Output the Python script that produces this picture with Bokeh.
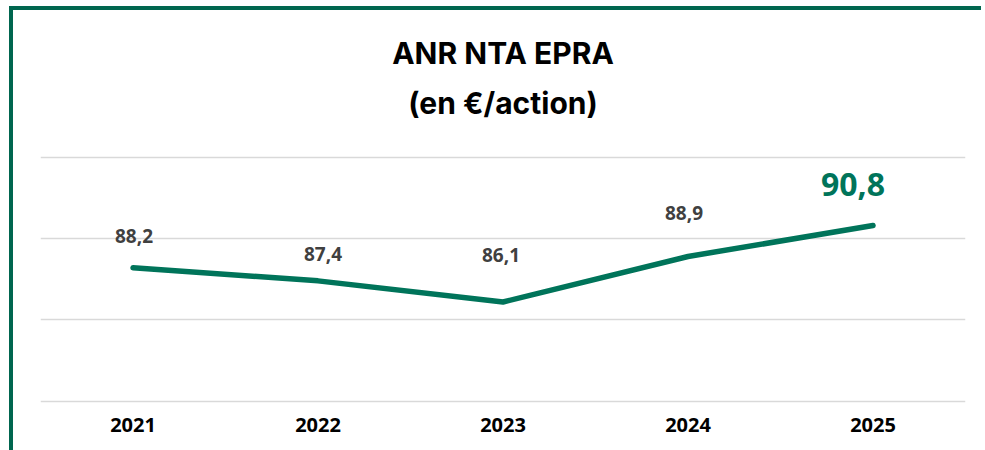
from bokeh.plotting import figure
from bokeh.models import ColumnDataSource, Range1d, FixedTicker, Label
from bokeh.core.properties import value
from bokeh.embed import file_html
from bokeh.resources import INLINE

years = ["2021", "2022", "2023", "2024", "2025"]
anr_values = [88.2, 87.4, 86.1, 88.9, 90.8]
value_labels = ["88,2", "87,4", "86,1", "88,9", "90,8"]
grid_ticks = [80, 85, 90, 95]
title_line1 = "ANR NTA EPRA"
title_line2 = "(en €/action)"

# layout-only settings for the data labels (screen pixel offsets, styles)
label_dx = [1, 5, -2, -4, -20]
label_dy = [-32, -27, -47, -43, -41]
label_size = ["19px", "19px", "19px", "19px", "32px"]
label_color = ["#404040", "#404040", "#404040", "#404040", "#00745A"]

GREEN = "#00745A"
FRAME_GREEN = "#00664F"

p = figure(
    x_range=years,
    y_range=Range1d(79.8, 104.02),
    width=972,
    height=444,
    output_backend="svg",
    toolbar_location=None,
    min_border_left=27,
    min_border_right=20,
    min_border_top=0,
    min_border_bottom=50,
)
p.margin = (6, 0, 0, 9)
p.styles = {"border-left": f"4px solid {FRAME_GREEN}", "border-top": f"4px solid {FRAME_GREEN}"}
p.outline_line_color = None
p.background_fill_color = "white"
p.border_fill_color = "white"

p.xgrid.visible = False
p.ygrid.ticker = FixedTicker(ticks=grid_ticks)
p.ygrid.grid_line_color = "#d9d9d9"
p.ygrid.grid_line_width = 1.5
p.yaxis.visible = False

ax = p.xaxis[0]
ax.axis_line_color = None
ax.major_tick_line_color = None
ax.minor_tick_line_color = None
ax.major_tick_out = 0
ax.major_tick_in = 0
ax.major_label_standoff = 13
ax.major_label_text_font = "Open Sans"
ax.major_label_text_font_style = "bold"
ax.major_label_text_font_size = "20px"
ax.major_label_text_color = "#000000"

src = ColumnDataSource(dict(
    x=years, y=anr_values, txt=value_labels,
    dx=label_dx, dy=label_dy, size=label_size, color=label_color,
))

p.line("x", "y", source=src, line_color=GREEN, line_width=5.5, line_cap="round", line_join="round")

p.text("x", "y", text="txt", source=src, x_offset="dx", y_offset="dy",
       text_font=value("Open Sans"), text_font_style="bold",
       text_font_size="size", text_color="color",
       text_align="center", text_baseline="alphabetic")

for txt, yv in [(title_line1, 101.4), (title_line2, 98.35)]:
    p.add_layout(Label(x=2.5, y=yv, text=txt, text_font="Inter", text_font_style="bold",
                       text_font_size="30px", text_color="#000000",
                       text_align="center", text_baseline="middle"))

open("out.html", "w").write(file_html(p, INLINE))
